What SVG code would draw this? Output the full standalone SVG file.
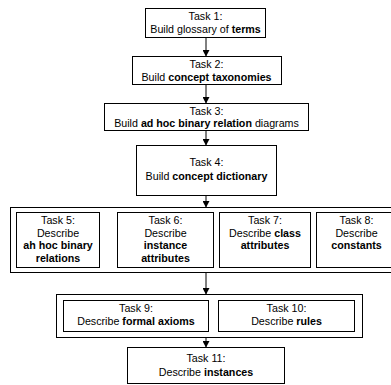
<svg xmlns="http://www.w3.org/2000/svg" width="391" height="385" viewBox="0 0 391 385">
<defs>
<marker id="ah" markerWidth="7" markerHeight="7" refX="6" refY="3.5" orient="auto" markerUnits="userSpaceOnUse">
<path d="M0,0 L6.5,3.5 L0,7 Z" fill="#000"/>
</marker>
<style>
rect{fill:#fff;stroke:#000;stroke-width:1}
text{font-family:"Liberation Sans",Arial,sans-serif;font-size:10.7px;fill:#000;text-anchor:middle}
.b{font-weight:bold}
.c line{stroke:#000;stroke-width:1;marker-end:url(#ah)}
</style>
</defs>
<rect width="391" height="385" style="stroke:none"/>
<g id="group1">
<rect x="10.5" y="207.5" width="392" height="65"/>
</g>
<g id="group2">
<rect x="56.5" y="294.5" width="306" height="43"/>
</g>
<g id="task1">
<rect x="145.5" y="8.5" width="120" height="29"/>
<text x="205.5" y="20">Task 1:</text>
<text x="205.5" y="33">Build glossary of <tspan class="b">terms</tspan></text>
</g>
<g id="task2">
<rect x="132.5" y="56.5" width="149" height="28"/>
<text x="206.5" y="67.5">Task 2:</text>
<text x="206.5" y="80.5">Build <tspan class="b">concept taxonomies</tspan></text>
</g>
<g id="task3">
<rect x="104.5" y="103.5" width="204" height="27"/>
<text x="206.5" y="115">Task 3:</text>
<text x="206.5" y="127">Build <tspan class="b">ad hoc binary relation</tspan> diagrams</text>
</g>
<g id="task4">
<rect x="136.5" y="145.5" width="140" height="50"/>
<text x="206.5" y="166">Task 4:</text>
<text x="206.5" y="179.5">Build <tspan class="b">concept dictionary</tspan></text>
</g>
<g id="task5">
<rect x="16.5" y="212.5" width="83" height="55"/>
<text x="58" y="224">Task 5:</text>
<text x="58" y="236.5">Describe</text>
<text x="58" y="249" class="b">ah hoc binary</text>
<text x="58" y="261.5" class="b">relations</text>
</g>
<g id="task6">
<rect x="117.5" y="212.5" width="96" height="55"/>
<text x="165.5" y="224">Task 6:</text>
<text x="165.5" y="236.5">Describe</text>
<text x="165.5" y="249" class="b">instance</text>
<text x="165.5" y="261.5" class="b">attributes</text>
</g>
<g id="task7">
<rect x="219.5" y="212.5" width="91" height="55"/>
<text x="265" y="224">Task 7:</text>
<text x="265" y="236.5">Describe <tspan class="b">class</tspan></text>
<text x="265" y="249" class="b">attributes</text>
</g>
<g id="task8">
<rect x="316.5" y="212.5" width="80" height="55"/>
<text x="356.5" y="224">Task 8:</text>
<text x="356.5" y="236.5">Describe</text>
<text x="356.5" y="249" class="b">constants</text>
</g>
<g id="task9">
<rect x="63.5" y="300.5" width="145" height="31"/>
<text x="136" y="312">Task 9:</text>
<text x="136" y="324.5">Describe <tspan class="b">formal axioms</tspan></text>
</g>
<g id="task10">
<rect x="218.5" y="300.5" width="136" height="31"/>
<text x="286.5" y="312">Task 10:</text>
<text x="286.5" y="324.5">Describe <tspan class="b">rules</tspan></text>
</g>
<g id="task11">
<rect x="127.5" y="347.5" width="157" height="36"/>
<text x="206" y="362">Task 11:</text>
<text x="206" y="376">Describe <tspan class="b">instances</tspan></text>
</g>
<g id="connectors" class="c">
<line x1="206" y1="38" x2="206" y2="56"/>
<line x1="206" y1="85" x2="206" y2="103"/>
<line x1="206" y1="131" x2="206" y2="145"/>
<line x1="206" y1="196" x2="206" y2="207"/>
<line x1="206" y1="273" x2="206" y2="294"/>
<line x1="206" y1="338" x2="206" y2="347"/>
</g>
</svg>
